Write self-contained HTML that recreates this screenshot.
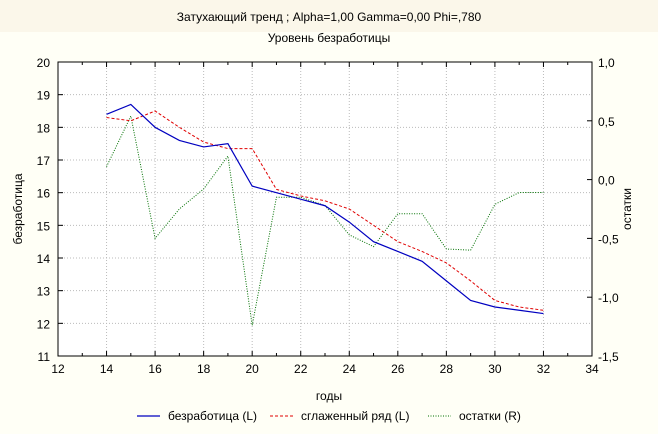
<!DOCTYPE html>
<html><head><meta charset="utf-8"><style>
body{margin:0;width:658px;height:434px;background:#fffff6;overflow:hidden}
svg{display:block}
text{font-family:"Liberation Sans","DejaVu Sans",sans-serif;font-size:12px;fill:#000}
</style></head><body>
<svg id="s" width="658" height="434" xmlns="http://www.w3.org/2000/svg">
<rect x="0" y="0" width="658" height="32" fill="#fbf7ea"/>
<rect x="58" y="62" width="534" height="294" fill="#fff"/>
<text x="329" y="21" text-anchor="middle">Затухающий тренд ; Alpha=1,00 Gamma=0,00 Phi=,780</text>
<text x="329" y="42" text-anchor="middle">Уровень безработицы</text>
<text x="329" y="400" text-anchor="middle">годы</text>
<text transform="translate(22,209) rotate(-90)" text-anchor="middle">безработица</text>
<text transform="translate(631,209) rotate(-90)" text-anchor="middle">остатки</text>
<g id="g"></g>
<line x1="137" y1="416" x2="160" y2="416" stroke="#0000c0" stroke-width="1.2"/>
<text x="168" y="420">безработица (L)</text>
<line x1="270" y1="416" x2="293" y2="416" stroke="#e00000" stroke-dasharray="3,2"/>
<text x="301" y="420">сглаженный ряд (L)</text>
<line x1="428" y1="416" x2="451" y2="416" stroke="#007000" stroke-dasharray="1,1.5"/>
<text x="459" y="420">остатки (R)</text>
</svg>
<script>
var L=58,R=592,T=62,B=356;
function X(v){return L+(v-12)*(R-L)/22}
function Y(v){return T+(20-v)*(B-T)/9}
function Y2(v){return T+(1-v)*(B-T)/2.5}
var h='';
for(var v=14;v<=32;v+=2)h+='<line x1="'+X(v)+'" y1="'+T+'" x2="'+X(v)+'" y2="'+B+'" stroke="#bbb" stroke-dasharray="1,2"/>';
for(var v=12;v<=19;v++)h+='<line x1="'+L+'" y1="'+Y(v)+'" x2="'+R+'" y2="'+Y(v)+'" stroke="#bbb" stroke-dasharray="1,2"/>';
for(var v=12;v<=34;v++){var m=v%2==0?5:3;h+='<line x1="'+X(v)+'" y1="'+B+'" x2="'+X(v)+'" y2="'+(B-m)+'" stroke="#000"/><line x1="'+X(v)+'" y1="'+T+'" x2="'+X(v)+'" y2="'+(T+m)+'" stroke="#000"/>';
 if(v%2==0)h+='<text x="'+X(v)+'" y="'+(B+17)+'" text-anchor="middle">'+v+'</text>';}
for(var v=11;v<=20;v++){h+='<line x1="'+L+'" y1="'+Y(v)+'" x2="'+(L+5)+'" y2="'+Y(v)+'" stroke="#000"/><text x="'+(L-8)+'" y="'+(Y(v)+5)+'" text-anchor="end">'+v+'</text>';}
var rl=['1,0','0,5','0,0','-0,5','-1,0','-1,5'];
for(var i=0;i<6;i++){var y=Y2(1-i*0.5);h+='<line x1="'+R+'" y1="'+y+'" x2="'+(R-5)+'" y2="'+y+'" stroke="#000"/><text x="'+(R+6)+'" y="'+(y+5)+'">'+rl[i]+'</text>';}
h+='<rect x="'+L+'" y="'+T+'" width="'+(R-L)+'" height="'+(B-T)+'" fill="none" stroke="#000"/>';
var b=[18.4,18.7,18.0,17.6,17.4,17.5,16.2,16.0,15.8,15.6,15.1,14.5,14.2,13.9,13.3,12.7,12.5,12.4,12.3];
var r=[18.3,18.2,18.5,18.0,17.55,17.35,17.35,16.1,15.9,15.75,15.5,15.0,14.5,14.2,13.85,13.3,12.7,12.5,12.4];
var g=[0.11,0.54,-0.5,-0.25,-0.08,0.2,-1.24,-0.15,-0.15,-0.22,-0.47,-0.57,-0.29,-0.29,-0.59,-0.6,-0.21,-0.11,-0.11];
function pts(a,f){return a.map(function(v,i){return X(14+i)+','+f(v)}).join(' ')}
h+='<polyline points="'+pts(g,Y2)+'" fill="none" stroke="#007000" stroke-dasharray="1,1.5"/>';
h+='<polyline points="'+pts(r,Y)+'" fill="none" stroke="#e00000" stroke-dasharray="3,2"/>';
h+='<polyline points="'+pts(b,Y)+'" fill="none" stroke="#0000c0" stroke-width="1.2"/>';
document.getElementById('g').innerHTML=h;
</script>
</body></html>
